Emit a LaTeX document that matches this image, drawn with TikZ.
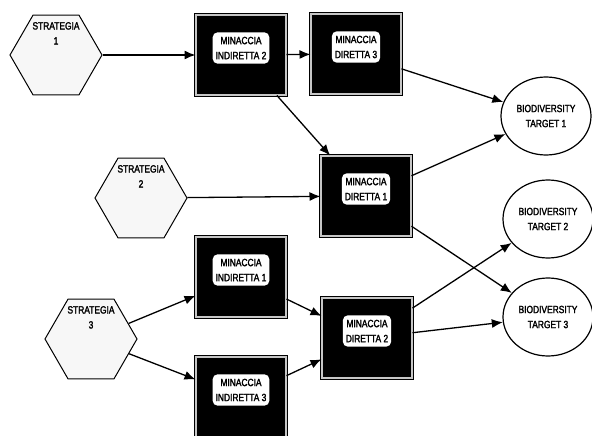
\documentclass[tikz,border=0pt]{standalone}
\usepackage{fontspec}
\newfontfamily\narrowsans[FakeStretch=0.8,FakeBold=2]{Liberation Sans}
\usetikzlibrary{shapes.geometric,arrows.meta}

\begin{document}
\begin{tikzpicture}[x=1pt,y=-1pt]
  \useasboundingbox (0,0) rectangle (592,436);
  \tikzset{TextStyle/.style = {
    font          = \narrowsans\fontsize{10.5}{15}\selectfont,
    align         = center,
    text          = black
    }
  }
  \tikzset{StrategyStyle/.style = {
    shape         = regular polygon,
    regular polygon sides = 6,
    draw          = black,
    fill          = gray!6,
    line width    = 1pt,
    inner sep     = 0pt,
    minimum size  = 92pt
    }
  }
  \tikzset{ThreatStyle/.style = {
    shape         = rectangle,
    draw          = black,
    fill          = black,
    line width    = 1pt,
    double        = gray!45,
    double distance = 1.6pt,
    minimum width = 90pt,
    minimum height = 80pt
    }
  }
  \tikzset{ThreatLabelStyle/.style = {
    TextStyle,
    shape         = rectangle,
    rounded corners = 5pt,
    fill          = white,
    inner xsep    = 3pt,
    inner ysep    = 4.5pt
    }
  }
  \tikzset{TargetStyle/.style = {
    TextStyle,
    shape         = ellipse,
    draw          = black,
    fill          = white,
    line width    = 1.2pt,
    inner sep     = 0pt,
    minimum width = 90pt,
    minimum height = 78pt
    }
  }
  \tikzset{EdgeStyle/.style = {
    draw          = black,
    line width    = 1.3pt,
    -{Latex[length=11pt,width=9pt]}
    }
  }

	\node[StrategyStyle, label={[TextStyle, anchor=north, yshift=-4pt]90:STRATEGIA\\1}](S1) at (56, 55) {};
	\node[StrategyStyle, label={[TextStyle, anchor=north, yshift=-4pt]90:STRATEGIA\\2}](S2) at (141, 198) {};
	\node[StrategyStyle, label={[TextStyle, anchor=north, yshift=-4pt]90:STRATEGIA\\3}](S3) at (91, 339) {};
	\node[ThreatStyle](MI2) at (241, 55) {};
	\node[ThreatStyle](MD3) at (356, 54) {};
	\node[ThreatStyle](MD1) at (366, 196) {};
	\node[ThreatStyle](MI1) at (241, 277) {};
	\node[ThreatStyle](MI3) at (241, 397) {};
	\node[ThreatStyle](MD2) at (367, 338) {};
	\node[ThreatLabelStyle](MI2t) at ([yshift=7pt]MI2) {MINACCIA\\INDIRETTA 2};
	\node[ThreatLabelStyle](MD3t) at ([yshift=7pt]MD3) {MINACCIA\\DIRETTA 3};
	\node[ThreatLabelStyle](MD1t) at ([yshift=7pt]MD1) {MINACCIA\\DIRETTA 1};
	\node[ThreatLabelStyle](MI1t) at ([yshift=7pt]MI1) {MINACCIA\\INDIRETTA 1};
	\node[ThreatLabelStyle](MI3t) at ([yshift=7pt]MI3) {MINACCIA\\INDIRETTA 3};
	\node[ThreatLabelStyle](MD2t) at ([yshift=7pt]MD2) {MINACCIA\\DIRETTA 2};
	\node[TargetStyle](T1) at (546, 116) {BIODIVERSITY\\TARGET 1};
	\node[TargetStyle](T2) at (548, 219) {BIODIVERSITY\\TARGET 2};
	\node[TargetStyle](T3) at (548, 317) {BIODIVERSITY\\TARGET 3};
	\draw[EdgeStyle](S1) to (MI2);
	\draw[EdgeStyle](MI2) to (MD3);
	\draw[EdgeStyle](MI2) to (MD1);
	\draw[EdgeStyle](S2) to (MD1);
	\draw[EdgeStyle](S3) to (MI1);
	\draw[EdgeStyle](S3) to (MI3);
	\draw[EdgeStyle](MI1) to (MD2);
	\draw[EdgeStyle](MI3) to (MD2);
	\draw[EdgeStyle](MD3) to (T1);
	\draw[EdgeStyle](MD1) to (T1);
	\draw[EdgeStyle](MD1) to (T3);
	\draw[EdgeStyle](MD2) to (T2);
	\draw[EdgeStyle](MD2) to (T3);

\end{tikzpicture}
\end{document}
